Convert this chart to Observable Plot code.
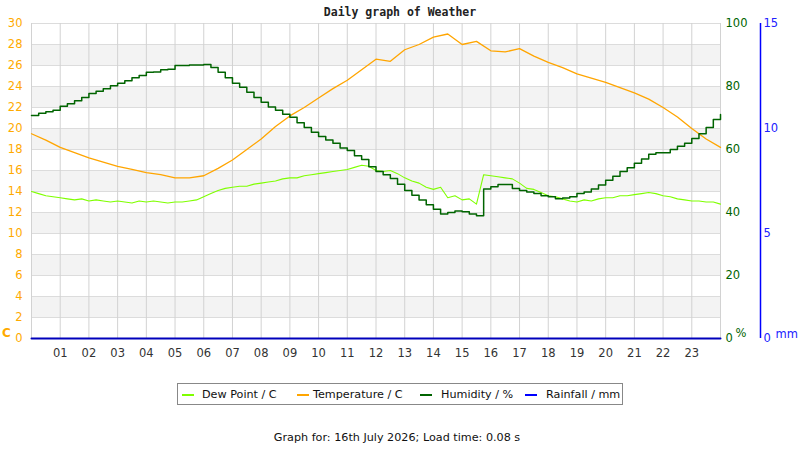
<!DOCTYPE html>
<html>
<head>
<meta charset="utf-8">
<script src="https://cdn.jsdelivr.net/npm/d3@7"></script>
<script src="https://cdn.jsdelivr.net/npm/@observablehq/plot@0.6"></script>
<style>
  body { margin: 0; background: #fff; }
  #wrap { position: relative; width: 800px; height: 450px; font-family: "DejaVu Sans", sans-serif; overflow: hidden; }
  #wrap svg { position: absolute; left: 0; top: 0; }
  .title { position: absolute; left: 0; width: 800px; top: 5px; text-align: center; font-family: "DejaVu Sans Mono", monospace; font-weight: bold; font-size: 11.5px; color: #222; }
  .legend { position: absolute; left: 177px; top: 383px; width: 446px; height: 22px; border: 1px solid #888; box-sizing: border-box; background: #fff; }
  .sw { position: absolute; top: 10px; width: 12px; height: 2px; }
  .lt { position: absolute; top: 4px; font-size: 11.2px; color: #111; white-space: nowrap; }
  .caption { position: absolute; left: 0; width: 794px; top: 431px; text-align: center; font-size: 11.2px; color: #111; }
</style>
</head>
<body>
<div id="wrap"></div>
<script>
// ---- data ----
const tempHours = [0,0.5,1,1.5,2,2.5,3,3.5,4,4.5,5,5.5,6,6.5,7,7.5,8,8.5,9,9.5,10,10.5,11,11.5,12,12.5,13,13.5,14,14.5,15,15.5,16,16.5,17,17.5,18,18.5,19,19.5,20,20.5,21,21.5,22,22.5,23,23.5,24];
const temperature = [19.5,18.9,18.2,17.7,17.2,16.8,16.4,16.1,15.8,15.6,15.3,15.3,15.5,16.2,17.0,18.0,19.0,20.2,21.2,22.0,22.9,23.8,24.6,25.6,26.6,26.4,27.5,28.0,28.7,29.0,28.0,28.3,27.4,27.3,27.6,26.9,26.3,25.8,25.2,24.8,24.4,23.9,23.4,22.8,22.0,21.1,20.0,19.0,18.2];

const qHours = d3.range(0, 24.001, 0.25);
const humidity = [70.8,71.5,72,72.5,73.7,74.5,75.5,76.5,77.8,78.5,79.3,80.2,81,81.8,82.8,83.5,84.5,84.6,85.3,85.5,86.7,86.7,86.8,86.8,87.0,86,84.5,82.8,81,79.8,78.2,76.5,75,73.5,72.5,71.2,70.2,68.5,67,65.5,64.1,63,62,60.5,59.7,58,56.8,54.5,53,52,50.8,49,47,45.5,44,42.5,41,39.5,40,40.5,40.2,39.5,39,47.5,48.2,48.9,48.9,47.6,47,46.5,46,45.3,45,44.4,44.6,45,46,46.5,47.5,48.7,50.2,51.5,53,54.2,55.6,57,58.5,59,59,60,61,62,63.5,65,67,69.5,71.1];
const dewPoint = [14.0,13.8,13.6,13.5,13.4,13.3,13.2,13.3,13.1,13.2,13.1,13.0,13.1,13.0,12.9,13.1,13.0,13.1,13.0,12.9,13.0,13.0,13.1,13.2,13.5,13.8,14.1,14.3,14.4,14.5,14.5,14.7,14.8,14.9,15.0,15.2,15.3,15.3,15.5,15.6,15.7,15.8,15.9,16.0,16.1,16.3,16.5,16.4,16.0,15.9,16.0,15.7,15.3,15.0,14.8,14.4,14.2,14.4,13.4,13.6,13.2,13.3,12.8,15.6,15.5,15.4,15.3,15.2,14.8,14.3,14.2,13.9,13.6,13.5,13.3,13.1,13.0,13.2,13.1,13.3,13.4,13.4,13.6,13.6,13.7,13.8,13.9,13.8,13.6,13.5,13.3,13.2,13.1,13.1,13.0,13.0,12.8];

const rainHours = [0,1,2,3,4,5,6,7,8,9,10,11,12,13,14,15,16,17,18,19,20,21,22,23,24];
const rainfall = [0,0,0,0,0,0,0,0,0,0,0,0,0,0,0,0,0,0,0,0,0,0,0,0,0];

const hourLabels = ["01","02","03","04","05","06","07","08","09","10","11","12","13","14","15","16","17","18","19","20","21","22","23"];
const gridHours = [0,1,2,3,4,5,6,7,8,9,10,11,12,13,14,15,16,17,18,19,20,21,22,23,24];
const tempTicks = [0,2,4,6,8,10,12,14,16,18,20,22,24,26,28,30];
const bandStarts = [2,6,10,14,18,22,26];
const humTicks = [0,20,40,60,80,100];
const rainTicks = [0,5,10,15];

const legendItems = [
  {label: "Dew Point / C", color: "#7fff00", sw: 182, tx: 202},
  {label: "Temperature / C", color: "#ffa500", sw: 297, tx: 313},
  {label: "Humidity / %", color: "#006400", sw: 420, tx: 441},
  {label: "Rainfall / mm", color: "#0000ff", sw: 525, tx: 546}
];

// ---- scale helpers (humidity 0-100 and rain 0-15 share the 0-30 y scale) ----
const hum = v => v * 30 / 100;
const rain = v => v * 30 / 15;

const tempData = tempHours.map((h, i) => ({h, v: temperature[i]}));
const humData = qHours.map((h, i) => ({h, v: humidity[i]}));
const dewData = qHours.map((h, i) => ({h, v: dewPoint[i]}));
const rainData = rainHours.map((h, i) => ({h, v: rainfall[i]}));

const fs = 11.5;
const chart = Plot.plot({
  width: 800,
  height: 450,
  marginLeft: 31,
  marginRight: 80,
  marginTop: 23,
  marginBottom: 112,
  x: {domain: [0, 24], axis: null},
  y: {domain: [0, 30], axis: null},
  style: {fontFamily: "DejaVu Sans, sans-serif", background: "transparent", overflow: "visible"},
  marks: [
    Plot.rectY(bandStarts, {x1: 0, x2: 24, y1: d => d, y2: d => d + 2, fill: "#f3f3f3"}),
    Plot.ruleY(tempTicks, {stroke: "#dcdcdc", strokeWidth: 1}),
    Plot.ruleX(gridHours, {stroke: "#d2d2d2", strokeWidth: 1}),
    Plot.line(dewData, {x: "h", y: "v", stroke: "#7fff00", strokeWidth: 1.1}),
    Plot.line(tempData, {x: "h", y: "v", stroke: "#ffa500", strokeWidth: 1.3}),
    Plot.line(humData, {x: "h", y: d => hum(d.v), stroke: "#006400", strokeWidth: 1.5, curve: "step-after"}),
    Plot.line(rainData, {x: "h", y: d => rain(d.v), stroke: "#0000bb", strokeWidth: 2}),
    // left temperature axis
    Plot.text(tempTicks, {x: 0, y: d => d, text: d => String(d), textAnchor: "end", dx: -9, fill: "#ffaa00", fontSize: fs}),
    Plot.text(["C"], {x: 0, y: 0, text: d => d, dx: -25, dy: -5, fill: "#ffaa00", fontSize: 12, fontWeight: "bold"}),
    // right humidity axis
    Plot.text(humTicks, {x: 24, y: d => hum(d), text: d => String(d), textAnchor: "start", dx: 5, fill: "#006400", fontSize: fs}),
    Plot.text(["%"], {x: 24, y: 0, text: d => d, textAnchor: "start", dx: 15, dy: -5, fill: "#006400", fontSize: fs}),
    // rainfall axis
    Plot.ruleX([24], {y1: 0, y2: 30, dx: 40, stroke: "#0000ff", strokeWidth: 1.5}),
    Plot.text(rainTicks, {x: 24, y: d => rain(d), text: d => String(d), textAnchor: "start", dx: 43, fill: "#2020ff", fontSize: fs}),
    Plot.text(["mm"], {x: 24, y: 0, text: d => d, textAnchor: "start", dx: 55, dy: -4, fill: "#2020ff", fontSize: fs}),
    // hour labels
    Plot.text(hourLabels, {x: (d, i) => i + 1, y: 0, text: d => d, dy: 15, fill: "#333", fontSize: fs})
  ]
});

const wrap = document.getElementById("wrap");
wrap.appendChild(chart);

const title = document.createElement("div");
title.className = "title";
title.textContent = "Daily graph of Weather";
wrap.appendChild(title);

const legend = document.createElement("div");
legend.className = "legend";
for (const it of legendItems) {
  const sw = document.createElement("div");
  sw.className = "sw";
  sw.style.left = (it.sw - 178) + "px";
  sw.style.background = it.color;
  legend.appendChild(sw);
  const t = document.createElement("div");
  t.className = "lt";
  t.style.left = (it.tx - 178) + "px";
  t.textContent = it.label;
  legend.appendChild(t);
}
wrap.appendChild(legend);

const cap = document.createElement("div");
cap.className = "caption";
cap.textContent = "Graph for: 16th July 2026; Load time: 0.08 s";
wrap.appendChild(cap);
</script>
</body>
</html>
